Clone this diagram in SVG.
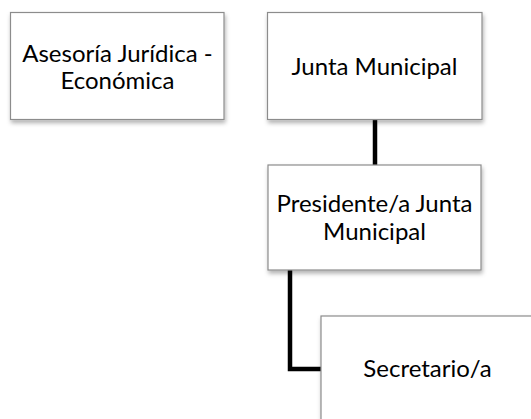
<svg xmlns="http://www.w3.org/2000/svg" width="531" height="419" viewBox="0 0 531 419">
<style>
.box{fill:#ffffff;stroke:#8c8c8c;stroke-width:1.2;filter:url(#sh)}
.t{font-family:Lato,"Liberation Sans",sans-serif;font-size:24px;fill:#000;text-anchor:middle}
.c{fill:none;stroke:#000;stroke-width:4.5;stroke-linejoin:miter}
</style>
<defs>
<filter id="sh" x="-10%" y="-10%" width="125%" height="130%">
<feDropShadow dx="1" dy="3" stdDeviation="2" flood-color="#000" flood-opacity="0.3"/>
</filter>
</defs>
<g id="connectors">
<path class="c" d="M375 119.5V165"/>
<path class="c" d="M290 270V369H321"/>
</g>
<g id="asesoria">
<rect class="box" x="10.5" y="12.5" width="213.5" height="107"/>
<text class="t" x="117.5" y="62">Asesoría Jurídica -</text>
<text class="t" x="117.5" y="89">Económica</text>
</g>
<g id="junta">
<rect class="box" x="267.5" y="12.5" width="214.5" height="107"/>
<text class="t" x="374.5" y="75">Junta Municipal</text>
</g>
<g id="presidente">
<rect class="box" x="268" y="165" width="213" height="105"/>
<text class="t" x="374.5" y="212">Presidente/a Junta</text>
<text class="t" x="374.5" y="240">Municipal</text>
</g>
<g id="secretario">
<rect class="box" x="321" y="316" width="213" height="106"/>
<text class="t" x="427.5" y="377">Secretario/a</text>
</g>
</svg>
